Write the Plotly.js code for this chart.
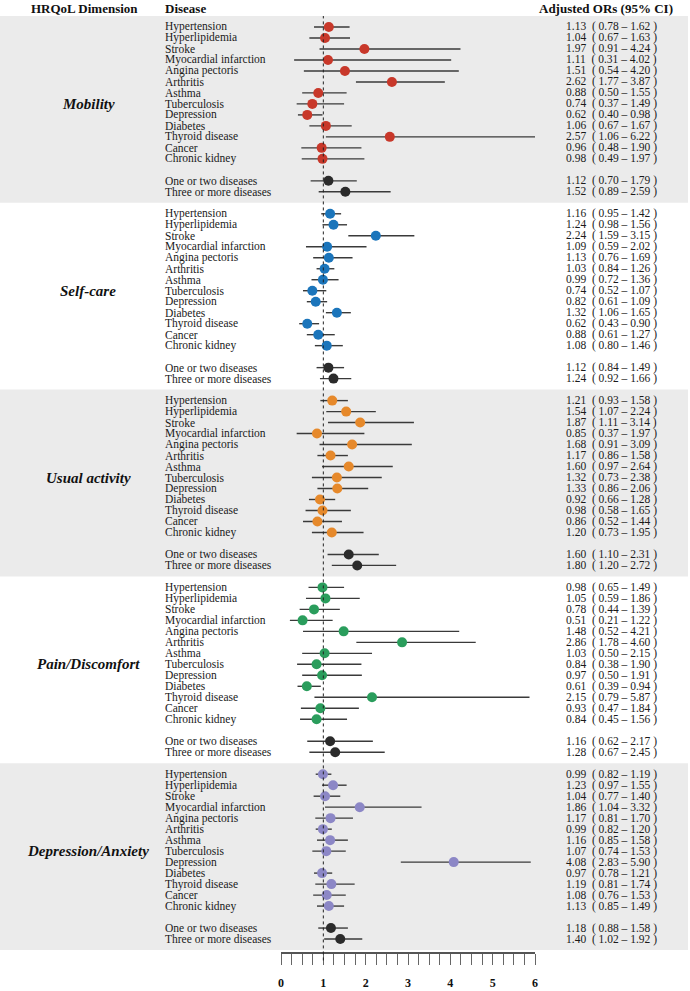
<!DOCTYPE html>
<html>
<head>
<meta charset="utf-8">
<script src="https://cdn.plot.ly/plotly-3.0.1.min.js"></script>
<style>html,body{margin:0;padding:0;background:#fff;}#chart{width:690px;height:991px;}</style>
</head>
<body>
<div id="chart"></div>
<script>
// ---------- data ----------
const dimensions = ["Mobility", "Self-care", "Usual activity", "Pain/Discomfort", "Depression/Anxiety"];
const diseases = ["Hypertension", "Hyperlipidemia", "Stroke", "Myocardial infarction", "Angina pectoris",
  "Arthritis", "Asthma", "Tuberculosis", "Depression", "Diabetes", "Thyroid disease", "Cancer", "Chronic kidney"];
const summaries = ["One or two diseases", "Three or more diseases"];

const mobilityOR = [1.13, 1.04, 1.97, 1.11, 1.51, 2.62, 0.88, 0.74, 0.62, 1.06, 2.57, 0.96, 0.98, 1.12, 1.52];
const mobilityLo = [0.78, 0.67, 0.91, 0.31, 0.54, 1.77, 0.50, 0.37, 0.40, 0.67, 1.06, 0.48, 0.49, 0.70, 0.89];
const mobilityHi = [1.62, 1.63, 4.24, 4.02, 4.20, 3.87, 1.55, 1.49, 0.98, 1.67, 6.22, 1.90, 1.97, 1.79, 2.59];

const selfcareOR = [1.16, 1.24, 2.24, 1.09, 1.13, 1.03, 0.99, 0.74, 0.82, 1.32, 0.62, 0.88, 1.08, 1.12, 1.24];
const selfcareLo = [0.95, 0.98, 1.59, 0.59, 0.76, 0.84, 0.72, 0.52, 0.61, 1.06, 0.43, 0.61, 0.80, 0.84, 0.92];
const selfcareHi = [1.42, 1.56, 3.15, 2.02, 1.69, 1.26, 1.36, 1.07, 1.09, 1.65, 0.90, 1.27, 1.46, 1.49, 1.66];

const usualOR = [1.21, 1.54, 1.87, 0.85, 1.68, 1.17, 1.60, 1.32, 1.33, 0.92, 0.98, 0.86, 1.20, 1.60, 1.80];
const usualLo = [0.93, 1.07, 1.11, 0.37, 0.91, 0.86, 0.97, 0.73, 0.86, 0.66, 0.58, 0.52, 0.73, 1.10, 1.20];
const usualHi = [1.58, 2.24, 3.14, 1.97, 3.09, 1.58, 2.64, 2.38, 2.06, 1.28, 1.65, 1.44, 1.95, 2.31, 2.72];

const painOR = [0.98, 1.05, 0.78, 0.51, 1.48, 2.86, 1.03, 0.84, 0.97, 0.61, 2.15, 0.93, 0.84, 1.16, 1.28];
const painLo = [0.65, 0.59, 0.44, 0.21, 0.52, 1.78, 0.50, 0.38, 0.50, 0.39, 0.79, 0.47, 0.45, 0.62, 0.67];
const painHi = [1.49, 1.86, 1.39, 1.22, 4.21, 4.60, 2.15, 1.90, 1.91, 0.94, 5.87, 1.84, 1.56, 2.17, 2.45];

const anxietyOR = [0.99, 1.23, 1.04, 1.86, 1.17, 0.99, 1.16, 1.07, 4.08, 0.97, 1.19, 1.08, 1.13, 1.18, 1.40];
const anxietyLo = [0.82, 0.97, 0.77, 1.04, 0.81, 0.82, 0.85, 0.74, 2.83, 0.78, 0.81, 0.76, 0.85, 0.88, 1.02];
const anxietyHi = [1.19, 1.55, 1.40, 3.32, 1.70, 1.20, 1.58, 1.53, 5.90, 1.21, 1.74, 1.53, 1.49, 1.58, 1.92];

const xTicks = [0, 1, 2, 3, 4, 5, 6];

// ---------- styling ----------
const ORs = [mobilityOR, selfcareOR, usualOR, painOR, anxietyOR];
const LOs = [mobilityLo, selfcareLo, usualLo, painLo, anxietyLo];
const HIs = [mobilityHi, selfcareHi, usualHi, painHi, anxietyHi];
const colors = ["#C8382A", "#1B75BB", "#E6892B", "#2A9D5C", "#8C87C6"];
const summaryColor = "#2B2B2B";
const FONT = "Liberation Serif, Times New Roman, serif";

const L = 281, R = 535, PW = R - L;
const px = v => (v - L) / PW;
const PANEL = 17;
const labels = diseases.concat(summaries);
function rowPos(p, i) { return p * PANEL + (i < 13 ? 1 + i : 15 + (i - 13)); }

const traces = [];
const annotations = [];
const shapes = [];

dimensions.forEach((dim, p) => {
  const or = ORs[p], lo = LOs[p], hi = HIs[p];
  const idxD = [...Array(13).keys()], idxS = [13, 14];
  [[idxD, colors[p]], [idxS, summaryColor]].forEach(([idx, col]) => {
    traces.push({
      type: "scatter", mode: "markers",
      x: idx.map(i => or[i]),
      y: idx.map(i => rowPos(p, i)),
      marker: { color: col, size: 10, line: { width: 0 } },
      error_x: {
        type: "data", symmetric: false,
        array: idx.map(i => hi[i] - or[i]),
        arrayminus: idx.map(i => or[i] - lo[i]),
        color: "#3a3a3a", thickness: 1.4, width: 0
      },
      cliponaxis: false, hoverinfo: "skip", showlegend: false
    });
  });
  if (p % 2 === 0) {
    shapes.push({ type: "rect", layer: "below", xref: "paper", yref: "y",
      x0: px(0), x1: px(688), y0: p * PANEL, y1: (p + 1) * PANEL,
      fillcolor: "#EBEBEB", line: { width: 0 } });
  }
  annotations.push({ xref: "paper", yref: "y", x: px(88), y: rowPos(p, 7),
    text: "<b><i>" + dim + "</i></b>", showarrow: false, xanchor: "center", yanchor: "middle",
    borderpad: 0, font: { family: FONT, size: 15, color: "#111" } });
  labels.forEach((lab, i) => {
    annotations.push({ xref: "paper", yref: "y", x: px(164), y: rowPos(p, i),
      text: lab, showarrow: false, xanchor: "left", yanchor: "middle", borderpad: 0,
      font: { family: FONT, size: 11.5, color: "#1a1a1a" } });
    annotations.push({ xref: "paper", yref: "y", x: px(565), y: rowPos(p, i),
      text: or[i].toFixed(2) + "\u00a0\u00a0(\u00a0" + lo[i].toFixed(2) + " \u2013 " + hi[i].toFixed(2) + "\u00a0)",
      showarrow: false, xanchor: "left", yanchor: "middle", borderpad: 0,
      font: { family: FONT, size: 11.5, color: "#1a1a1a" } });
  });
});

const headY = 1 + (16 - 8) / 936;
annotations.push({ xref: "paper", yref: "paper", x: px(84), y: headY, text: "<b>HRQoL Dimension</b>",
  showarrow: false, xanchor: "center", yanchor: "middle", borderpad: 0, font: { family: FONT, size: 13, color: "#111" } });
annotations.push({ xref: "paper", yref: "paper", x: px(164), y: headY, text: "<b>Disease</b>",
  showarrow: false, xanchor: "left", yanchor: "middle", borderpad: 0, font: { family: FONT, size: 13, color: "#111" } });
annotations.push({ xref: "paper", yref: "paper", x: px(674), y: headY, text: "<b>Adjusted ORs (95% CI)</b>",
  showarrow: false, xanchor: "right", yanchor: "middle", borderpad: 0, font: { family: FONT, size: 13, color: "#111" } });

shapes.push({ type: "line", xref: "x", yref: "paper", x0: 1, x1: 1, y0: -0.009, y1: 1,
  line: { color: "#222", width: 1, dash: "dot" } });

const layout = {
  width: 690, height: 991,
  margin: { l: L, r: 690 - R, t: 16, b: 39, pad: 0 },
  paper_bgcolor: "#fff", plot_bgcolor: "rgba(0,0,0,0)",
  showlegend: false,
  xaxis: {
    range: [0, 6], tickvals: xTicks, ticktext: xTicks.map(String),
    ticks: "outside", ticklen: 11, tickwidth: 1, tickcolor: "#666",
    minor: { dtick: 0.25, ticks: "outside", ticklen: 11, tickwidth: 1, tickcolor: "#666" },
    showline: true, linecolor: "#555", linewidth: 1.5,
    showgrid: false, zeroline: false, fixedrange: true,
    ticklabelstandoff: 8,
    tickfont: { family: FONT, size: 12, color: "#111", weight: "bold" }
  },
  yaxis: { range: [85.18, 0], visible: false, showgrid: false, zeroline: false, fixedrange: true },
  shapes: shapes, annotations: annotations
};

Plotly.newPlot("chart", traces, layout, { displayModeBar: false, staticPlot: true });
</script>
</body>
</html>
